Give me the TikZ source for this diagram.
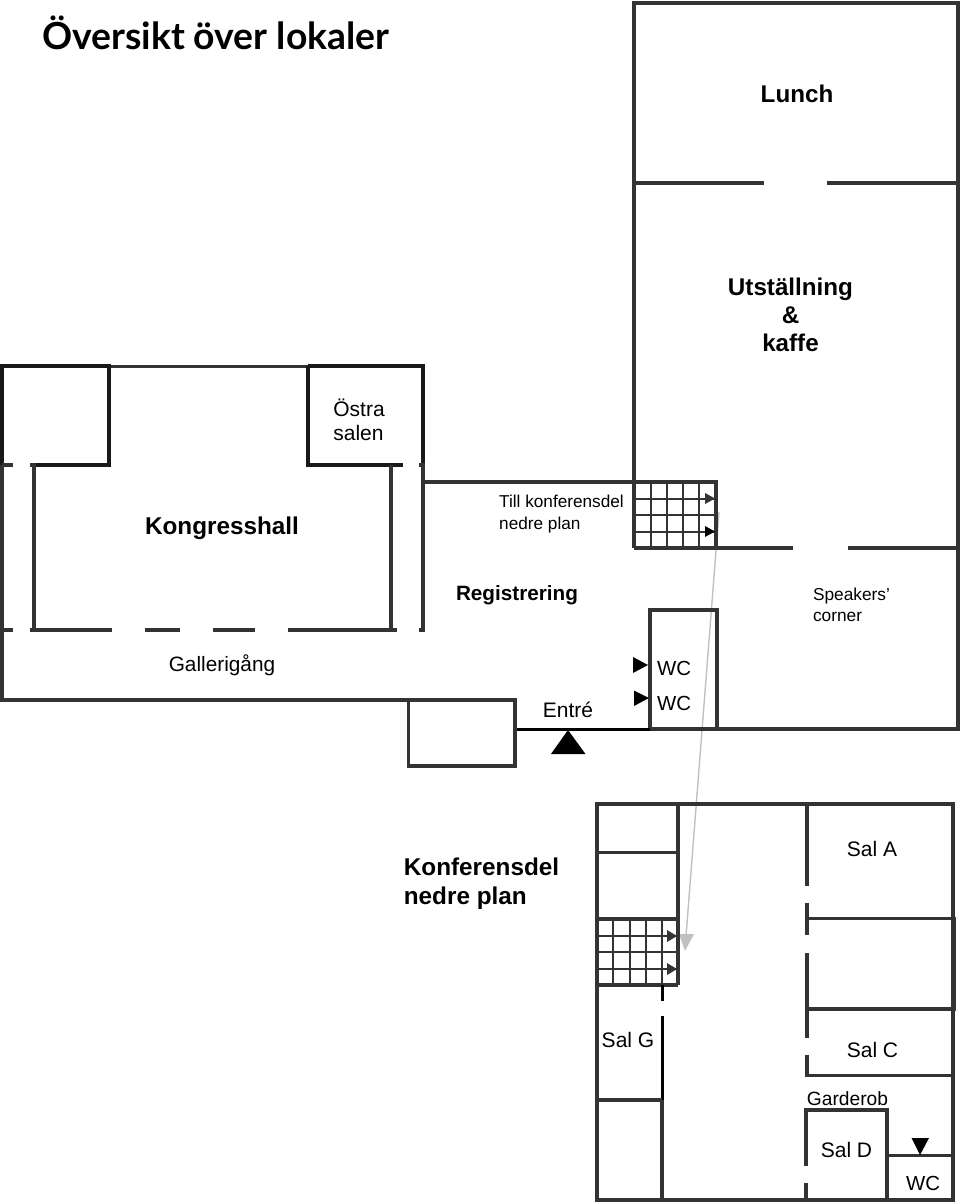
\documentclass[tikz,border=0pt]{standalone}
\usepackage{fontspec}
\setmainfont{Liberation Sans}
\newfontfamily\titlefont{Lato}
\definecolor{wallc}{HTML}{333333}
\definecolor{greyc}{HTML}{C0C0C0}
\newcommand{\fs}[2]{\fontsize{#1}{#2}\selectfont}
\tikzset{
  wall/.style={draw=wallc,line width=3.2pt,line cap=butt,line join=miter},
  wallb/.style={draw=black!90,line width=3.4pt,line cap=butt,line join=miter},
  thin wall/.style={draw=wallc,line width=3.2pt},
  grid line/.style={draw=wallc,line width=2pt},
  mark tri/.style={fill=black,draw=none},
  mark dark/.style={fill=wallc,draw=none},
  lab/.style={inner sep=0pt,align=center,text=black},
  labl/.style={inner sep=0pt,align=left,text=black},
}
\begin{document}
\begin{tikzpicture}[x=1pt,y=-1pt]
\useasboundingbox (0,0) rectangle (960,1202);
% ---- grey link arrow
\coordinate (linkA) at (719,512);
\coordinate (linkB) at (686,936);
\draw[greyc,line width=1.4pt] (linkA) -- (linkB);
\fill[greyc] (679,934) -- (694,934) -- (685,951) -- cycle;
% ---- upper right building
\draw[wall] (634,548) -- (634,3) -- (958,3) -- (958,729) -- (650,729);
\draw[wall] (634,183) -- (764,183) (827,183) -- (958,183);
\draw[wall] (716,548) -- (793,548) (848,548) -- (958,548);
\draw[wall] (424,482) -- (716,482) -- (716,548) -- (634,548);
\draw[grid line] (650.5,482) -- (650.5,548) (667,482) -- (667,548) (683,482) -- (683,548) (699,482) -- (699,548);
\draw[grid line] (634,499) -- (714,499) (634,515) -- (714,515) (634,532) -- (714,532);
\fill[mark dark] (705,493) -- (715,498.5) -- (705,504) -- cycle;
\fill[mark tri] (705,526) -- (715,531.5) -- (705,537) -- cycle;
% ---- WC box
\draw[wall] (650,729) -- (650,610) -- (717,610) -- (717,729);
\fill[mark tri] (633,657) -- (648,665) -- (633,673) -- cycle;
\fill[mark tri] (634,690.5) -- (649,698) -- (634,706) -- cycle;
% ---- entrance
\draw[black,line width=3pt] (515,729) -- (650,729);
\fill[mark tri] (568,730) -- (585.5,754) -- (551,754) -- cycle;
\draw[wall] (408.5,700) rectangle (515,766);
% ---- Kongresshall
\draw[draw=wallc,line width=3pt] (109,366) -- (308,366);
\draw[wallb] (2,465) -- (2,366) -- (109,366) -- (109,465) -- (34,465);
\draw[wallb] (308,366) -- (423,366) -- (423,465);
\draw[wallb] (403,465) -- (308,465) -- (308,366);
\draw[wall] (2,465) -- (13,465) (30,465) -- (36,465);
\draw[wall] (419,465) -- (425,465);
\draw[thin wall] (34,465) -- (34,631);
\draw[thin wall] (391,465) -- (391,631);
\draw[thin wall] (423,465) -- (423,631);
\draw[thin wall] (2,465) -- (2,700) -- (408,700);
\draw[wall] (2,630) -- (13,630) (30,630) -- (112,630) (145,630) -- (180,630) (213,630) -- (255,630) (288,630) -- (397,630) (419,630) -- (425,630);
% ---- lower plan
\draw[wall] (597,804) rectangle (953,1200);
\draw[wall] (678,804) -- (678,985);
\draw[wall] (597,852.5) -- (678,852.5);
\draw[wall] (597,919) -- (678,919);
\draw[wall] (597,985) -- (678,985);
\draw[grid line] (613,919) -- (613,985) (629.5,919) -- (629.5,985) (646,919) -- (646,985) (662,919) -- (662,985);
\draw[grid line] (597,936) -- (677,936) (597,952) -- (677,952) (597,969) -- (677,969);
\fill[mark dark] (667,930) -- (677,936) -- (667,942) -- cycle;
\fill[mark dark] (667,963) -- (677,969) -- (667,975) -- cycle;
\draw[black,line width=3pt] (662,985) -- (662,1001) (662,1016) -- (662,1100);
\draw[thin wall] (662,1100) -- (662,1200);
\draw[wall] (597,1100) -- (662,1100);
\draw[wall] (807,804) -- (807,886) (807,903) -- (807,935) (807,953) -- (807,1038) (807,1055) -- (807,1077);
\draw[wall] (807,918.5) -- (955,918.5) (807,1009) -- (955,1009) (805.5,1075.5) -- (953,1075.5);
\draw[draw=wallc,line width=4pt] (954,917) -- (954,1011);
\draw[wall] (806,1166) -- (806,1110) -- (887,1110) -- (887,1200);
\draw[wall] (806,1183) -- (806,1200);
\draw[draw=wallc,line width=3pt] (887,1155) -- (953,1155);
\fill[mark tri] (911.5,1138) -- (929,1138) -- (920,1155) -- cycle;
% ---- texts
\node[labl,anchor=west,font=\titlefont\bfseries\fs{37.3}{40}] (title) at (42,33) {Översikt över lokaler};
\node[lab,font=\bfseries\fs{24.2}{28}] (lunch) at (797,93.5) {Lunch};
\node[lab,font=\bfseries\fs{24.2}{28}] (utst) at (790.5,315) {Utställning\\\&\\kaffe};
\node[labl,font=\fs{21}{24}] (ostra) at (359,420) {Östra\\salen};
\node[lab,font=\bfseries\fs{24.3}{28}] (kong) at (222,528.5) {Kongresshall};
\node[labl,font=\fs{17.2}{21.5}] (till) at (561.5,514) {Till konferensdel\\nedre plan};
\node[lab,font=\bfseries\fs{20.7}{24}] (reg) at (517,595.5) {Registrering};
\node[labl,font=\fs{17.3}{21}] (speak) at (851.5,604.5) {Speakers’\\corner};
\node[lab,font=\fs{20.8}{24}] (gall) at (222,665.5) {Gallerigång};
\node[lab,font=\fs{21}{24}] (entre) at (568,710) {Entré};
\node[lab,font=\fs{20.4}{24}] (wc1) at (674,668) {WC};
\node[lab,font=\fs{20.4}{24}] (wc2) at (674,703) {WC};
\node[labl,font=\bfseries\fs{24.3}{29}] (konf) at (481.5,883.5) {Konferensdel\\nedre plan};
\node[lab,font=\fs{21}{24}] (sala) at (872,849) {Sal A};
\node[lab,font=\fs{21}{24}] (salg) at (628,1040) {Sal G};
\node[lab,font=\fs{21}{24}] (salc) at (872.5,1050) {Sal C};
\node[lab,font=\fs{19.2}{22}] (gard) at (847.5,1098.5) {Garderob};
\node[lab,font=\fs{21}{24}] (sald) at (846.5,1149.5) {Sal D};
\node[lab,font=\fs{20.4}{24}] (wc3) at (923,1183) {WC};
\end{tikzpicture}
\end{document}
